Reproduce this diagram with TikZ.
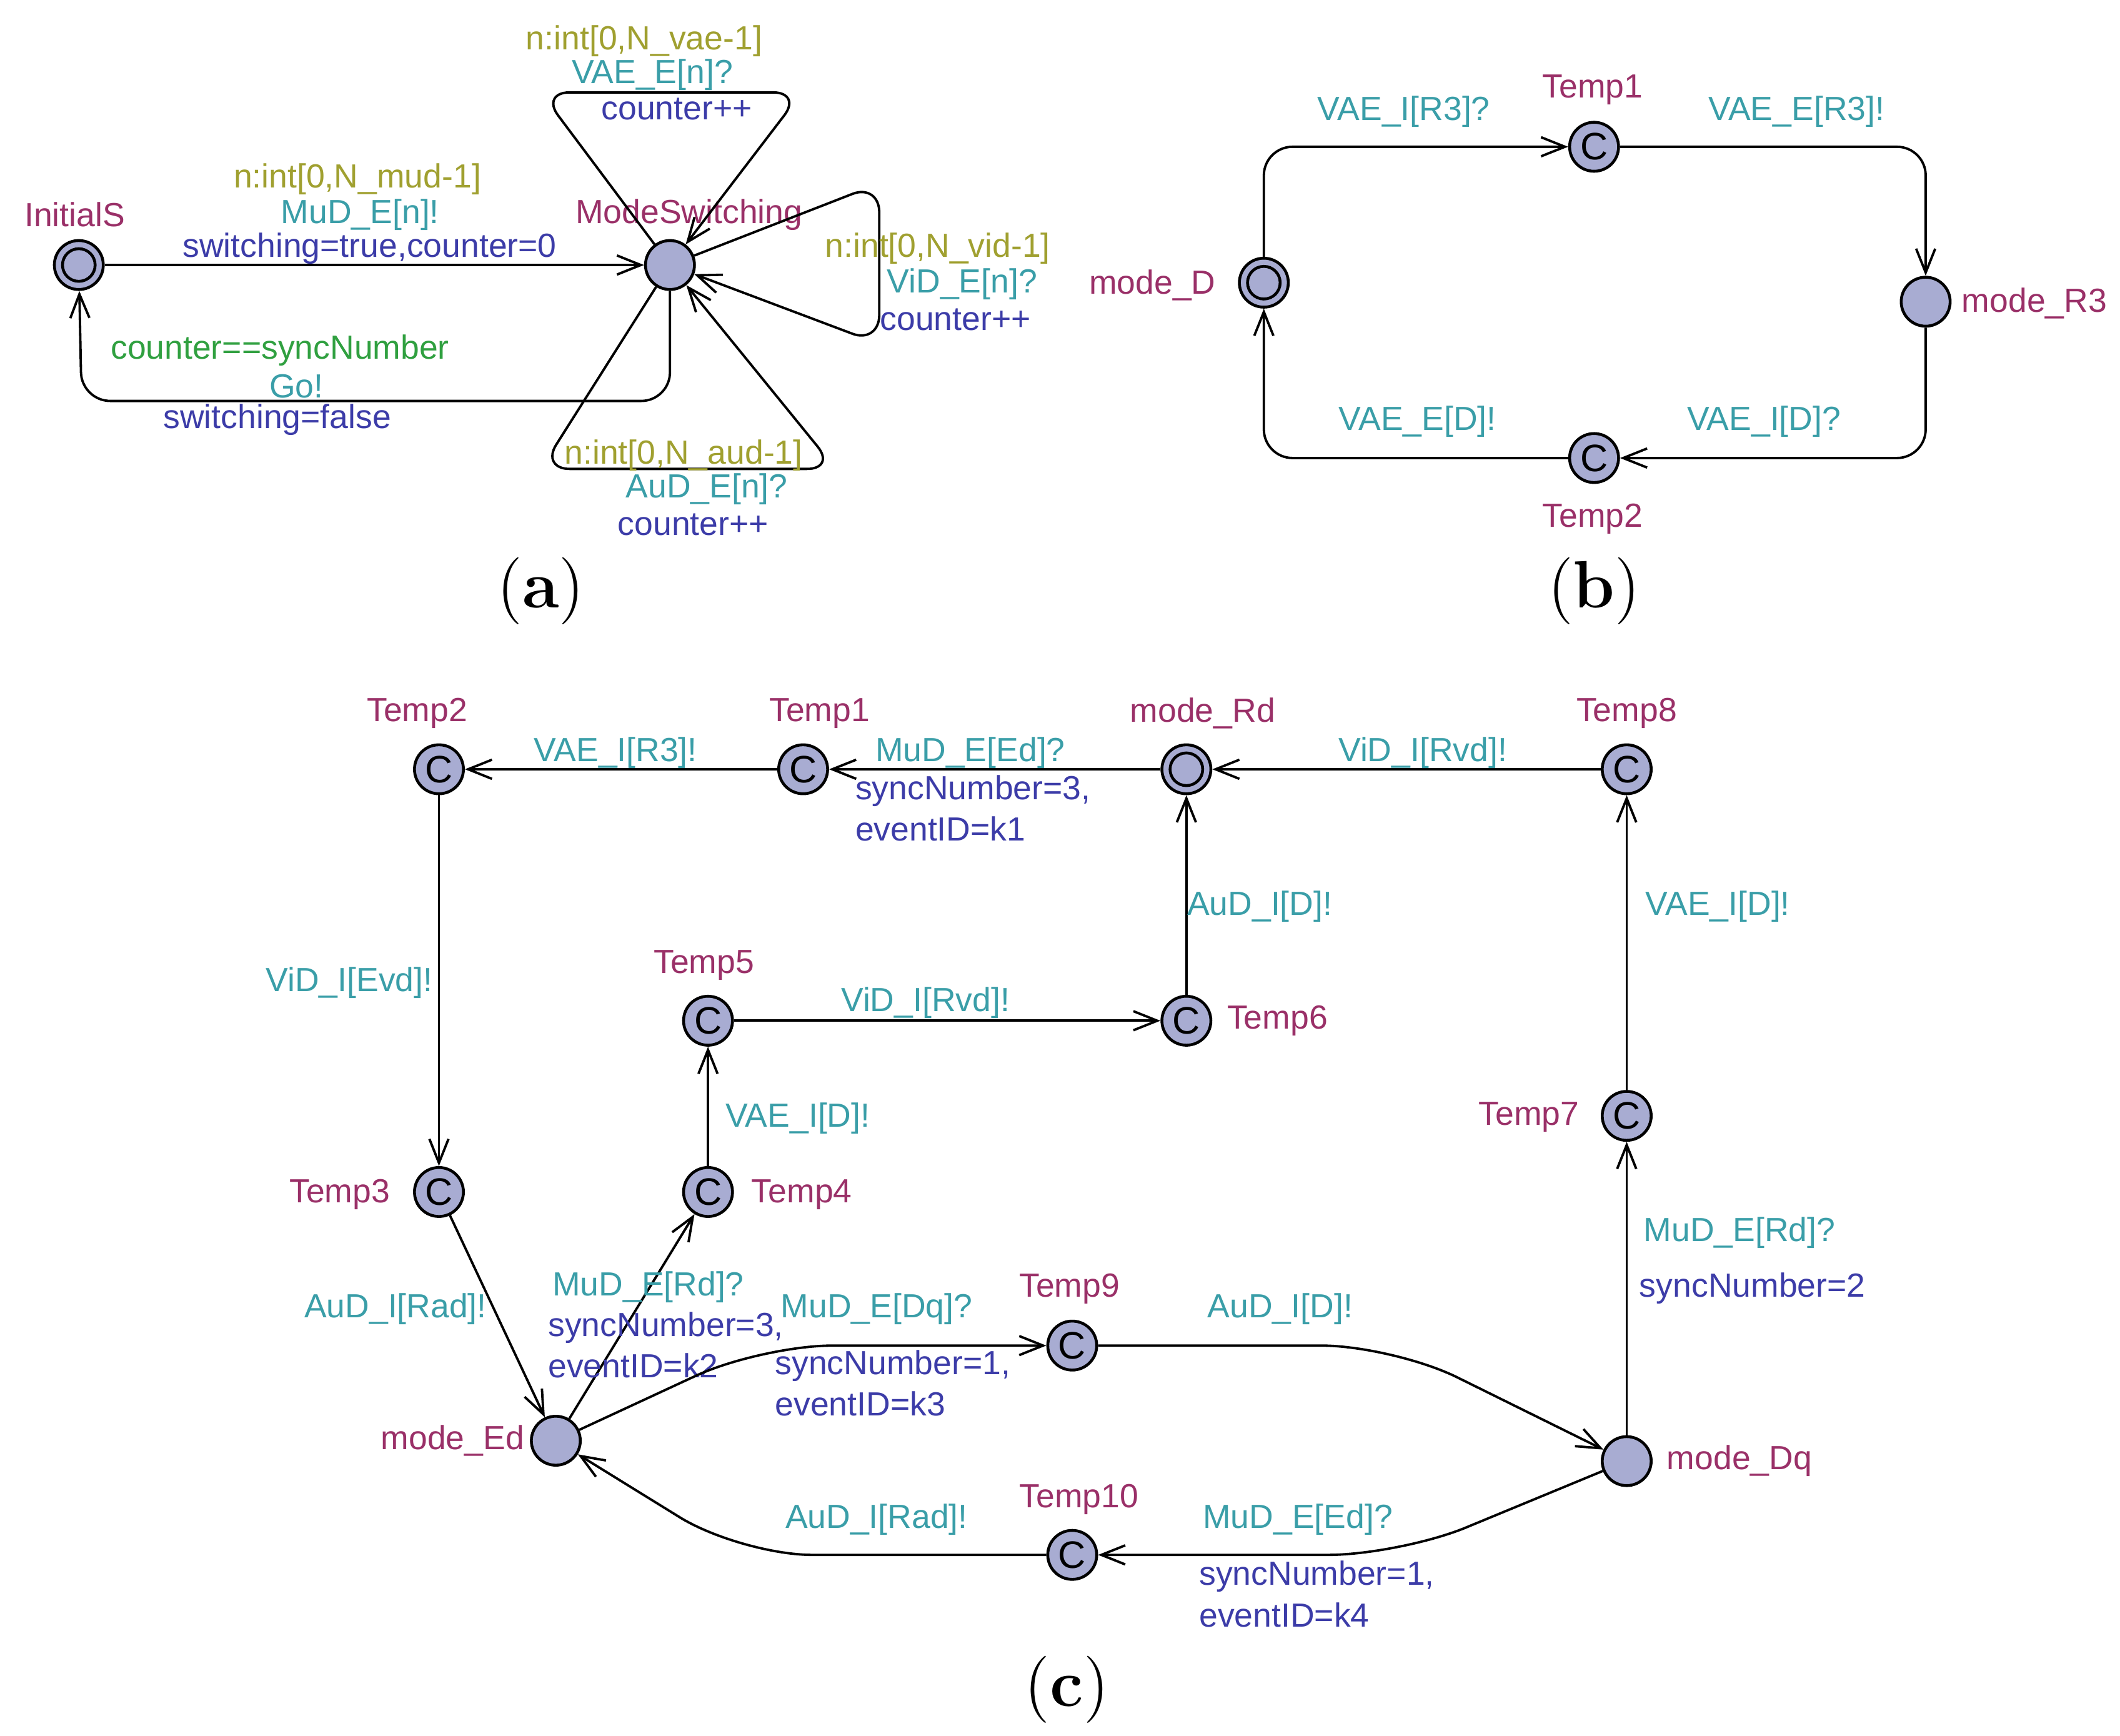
\documentclass[tikz,border=0pt]{standalone}
\usepackage{fontspec}
\usepackage{tikz}
\usetikzlibrary{arrows.meta}
\newfontfamily\uf{Liberation Sans}
\definecolor{cname}{HTML}{9A3068}
\definecolor{csync}{HTML}{3A9EA8}
\definecolor{csel}{HTML}{A0A030}
\definecolor{cupd}{HTML}{3C3CA8}
\definecolor{cgrd}{HTML}{30A040}
\definecolor{cfill}{HTML}{A8ACD2}
\tikzset{
  loc/.style={circle,draw,fill=cfill,minimum size=0.36cm,inner sep=0pt,line width=0.6pt},
  com/.style={loc,font=\uf\fontsize{8}{8}\selectfont,text=black},
  ini/.style={loc,path picture={\draw (path picture bounding box.center) circle (0.12cm);}},
  nm/.style={text=cname,font=\uf\fontsize{7}{9}\selectfont},
  sy/.style={text=csync,font=\uf\fontsize{7}{9}\selectfont},
  se/.style={text=csel,font=\uf\fontsize{7}{9}\selectfont},
  up/.style={text=cupd,font=\uf\fontsize{7}{9}\selectfont},
  gd/.style={text=cgrd,font=\uf\fontsize{7}{9}\selectfont},
  tr/.style={->,>={Straight Barb[length=5pt,width=4pt]},line width=0.5pt,rounded corners=6pt},
  subcap/.style={font=\fontsize{14}{16}\selectfont}
}
\begin{document}
\begin{tikzpicture}[x=0.01cm,y=-0.01cm]
\useasboundingbox (0,0) rectangle (1560,1277);
% (a)
\node[ini] (init) at (58,195) {};
\node[loc] (ms) at (493,195) {};
\node[nm] (ninit) at (55,158) {InitialS};
\node[nm] (nms) at (507,158) {ModeSwitching};
\draw[tr] (init) -- (ms);
\node[se] (a1) at (263,132) {n:int[0,N\_mud-1]};
\node[sy] (a2) at (265,158) {MuD\_E[n]!};
\node[up] (a3) at (272,183) {switching=true,counter=0};
\draw[tr] (ms) -- (493,295) -- (60,295) -- (init);
\node[gd] (a4) at (206,258) {counter==syncNumber};
\node[sy] (a5) at (218,284) {Go!};
\node[up] (a6) at (204,309) {switching=false};
\draw[tr] (ms) -- (398,68) -- (590,68) -- (ms);
\node[se] (a7) at (474,30) {n:int[0,N\_vae-1]};
\node[sy] (a8) at (480,55) {VAE\_E[n]?};
\node[up] (a9) at (498,80) {counter++};
\draw[tr] (ms) -- (647,135) -- (647,253) -- (ms);
\node[se] (a10) at (690,183) {n:int[0,N\_vid-1]};
\node[sy] (a11) at (708,209) {ViD\_E[n]?};
\node[up] (a12) at (703,235) {counter++};
\draw[tr] (ms) -- (398,345) -- (615,345) -- (ms);
\node[se] (a13) at (503,335) {n:int[0,N\_aud-1]};
\node[sy] (a14) at (520,360) {AuD\_E[n]?};
\node[up] (a15) at (510,386) {counter++};
\node[subcap] (capa) at (398,435) {(\textbf{a})};
% (b)
\node[ini] (md) at (930,208) {};
\node[com] (bt1) at (1173,108) {C};
\node[loc] (mr3) at (1417,222) {};
\node[com] (bt2) at (1173,337) {C};
\node[nm] (nmd) at (848,210) {mode\_D};
\node[nm] (nbt1) at (1172,66) {Temp1};
\node[nm] (nmr3) at (1497,223) {mode\_R3};
\node[nm] (nbt2) at (1172,382) {Temp2};
\draw[tr] (md) -- (930,108) -- (bt1);
\draw[tr] (bt1) -- (1417,108) -- (mr3);
\draw[tr] (mr3) -- (1417,337) -- (bt2);
\draw[tr] (bt2) -- (930,337) -- (md);
\node[sy] (b1) at (1033,82) {VAE\_I[R3]?};
\node[sy] (b2) at (1322,82) {VAE\_E[R3]!};
\node[sy] (b3) at (1298,310) {VAE\_I[D]?};
\node[sy] (b4) at (1043,310) {VAE\_E[D]!};
\node[subcap] (capb) at (1173,435) {(\textbf{b})};
% (c)
\node[com] (t2) at (323,566) {C};
\node[com] (t1) at (591,566) {C};
\node[ini] (mrd) at (873,566) {};
\node[com] (t8) at (1197,566) {C};
\node[com] (t5) at (521,751) {C};
\node[com] (t6) at (873,751) {C};
\node[com] (t3) at (323,877) {C};
\node[com] (t4) at (521,877) {C};
\node[com] (t7) at (1197,821) {C};
\node[com] (t9) at (789,990) {C};
\node[loc] (med) at (409,1060) {};
\node[loc] (mdq) at (1197,1075) {};
\node[com] (t10) at (789,1144) {C};
\node[nm] (nt2) at (307,525) {Temp2};
\node[nm] (nt1) at (603,525) {Temp1};
\node[nm] (nmrd) at (885,525) {mode\_Rd};
\node[nm] (nt8) at (1197,525) {Temp8};
\node[nm] (nt5) at (518,710) {Temp5};
\node[nm] (nt6) at (940,751) {Temp6};
\node[nm] (nt3) at (250,879) {Temp3};
\node[nm] (nt4) at (590,879) {Temp4};
\node[nm] (nt7) at (1125,822) {Temp7};
\node[nm] (nt9) at (787,948) {Temp9};
\node[nm] (nmed) at (333,1060) {mode\_Ed};
\node[nm] (nmdq) at (1280,1075) {mode\_Dq};
\node[nm] (nt10) at (794,1103) {Temp10};
\draw[tr] (t1) -- (t2);
\node[sy] (c1) at (453,554) {VAE\_I[R3]!};
\draw[tr] (mrd) -- (t1);
\node[sy] (c2) at (714,554) {MuD\_E[Ed]?};
\node[up,anchor=west] (c3) at (617,582) {syncNumber=3,};
\node[up,anchor=west] (c4) at (617,610) {eventID=k1};
\draw[tr] (t8) -- (mrd);
\node[sy] (c5) at (1047,554) {ViD\_I[Rvd]!};
\draw[tr] (t6) -- (mrd);
\node[sy] (c6) at (927,667) {AuD\_I[D]!};
\draw[tr] (t5) -- (t6);
\node[sy] (c7) at (681,738) {ViD\_I[Rvd]!};
\draw[tr] (t4) -- (t5);
\node[sy] (c8) at (587,823) {VAE\_I[D]!};
\draw[tr] (t2) -- (t3);
\node[sy] (c9) at (257,723) {ViD\_I[Evd]!};
\draw[tr] (t3) -- (med);
\node[sy] (c10) at (291,963) {AuD\_I[Rad]!};
\draw[tr] (med) -- (t4);
\node[sy] (c11) at (477,947) {MuD\_E[Rd]?};
\node[up,anchor=west] (c12) at (391,977) {syncNumber=3,};
\node[up,anchor=west] (c13) at (391,1005) {eventID=k2};
\draw[tr,rounded corners=15pt] (med) -- (560,990) -- (t9);
\node[sy] (c14) at (645,963) {MuD\_E[Dq]?};
\node[up,anchor=west] (c15) at (558,1005) {syncNumber=1,};
\node[up,anchor=west] (c16) at (558,1033) {eventID=k3};
\draw[tr,rounded corners=15pt] (t9) -- (1025,990) -- (mdq);
\node[sy] (c17) at (942,963) {AuD\_I[D]!};
\draw[tr] (mdq) -- (t7);
\node[sy] (c18) at (1280,907) {MuD\_E[Rd]?};
\node[up,anchor=west] (c19) at (1194,948) {syncNumber=2};
\draw[tr] (t7) -- (t8);
\node[sy] (c20) at (1264,667) {VAE\_I[D]!};
\draw[tr,rounded corners=15pt] (mdq) -- (1030,1144) -- (t10);
\node[sy] (c21) at (955,1118) {MuD\_E[Ed]?};
\node[up,anchor=west] (c22) at (870,1160) {syncNumber=1,};
\node[up,anchor=west] (c23) at (870,1188) {eventID=k4};
\draw[tr,rounded corners=15pt] (t10) -- (545,1144) -- (med);
\node[sy] (c24) at (645,1118) {AuD\_I[Rad]!};
\node[subcap] (capc) at (785,1243) {(\textbf{c})};
\end{tikzpicture}
\end{document}
